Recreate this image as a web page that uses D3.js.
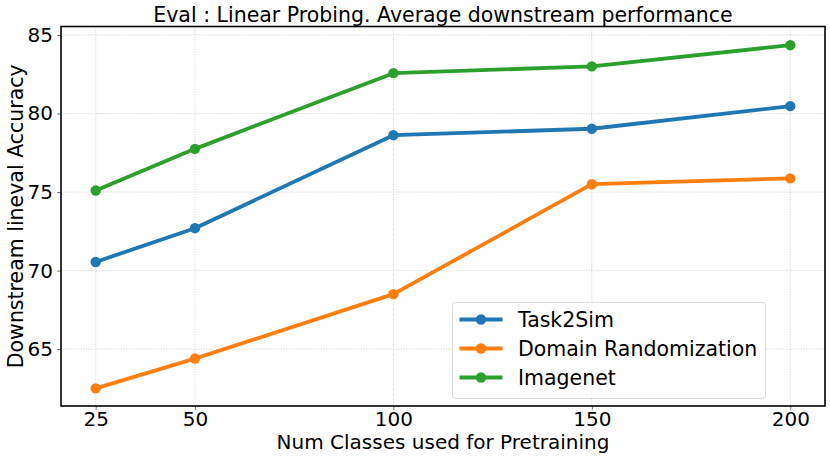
<!DOCTYPE html>
<html>
<head>
<meta charset="utf-8">
<script src="https://cdn.jsdelivr.net/npm/d3@7"></script>
<style>
  body { margin: 0; background: #fff; }
  text { font-family: 'DejaVu Sans', sans-serif; fill: #000; }
</style>
</head>
<body>
<div id="chart"></div>
<script>
// values
var numClasses = [25, 50, 100, 150, 200]
var task2sim = [70.55, 72.7, 78.62, 79.03, 80.47]
var domainRand = [62.5, 64.4, 68.5, 75.5, 75.87]
var imagenet = [75.1, 77.75, 82.57, 83.0, 84.35]
var seriesNames = ['Task2Sim', 'Domain Randomization', 'Imagenet']
var yTicks = [65, 70, 75, 80, 85]

var colors = ['#1f77b4', '#ff7f0e', '#2ca02c']

const width = 830
const height = 461
const margin = { top: 26.5, right: 5, bottom: 55, left: 61 }

var svg = d3.select('#chart')
  .append('svg')
  .attr('width', width)
  .attr('height', height)

var x = d3.scaleLinear()
  .domain([16.25, 208.75])
  .range([margin.left, width - margin.right])

var y = d3.scaleLinear()
  .domain([61.38, 85.54])
  .range([height - margin.bottom, margin.top])

// grid
var grid = svg.append('g')
grid.selectAll('.gx')
  .data(numClasses)
  .enter().append('line')
  .attr('x1', d => x(d)).attr('x2', d => x(d))
  .attr('y1', margin.top).attr('y2', height - margin.bottom)
  .attr('stroke', '#c8c8c8').attr('stroke-width', 0.8)
  .attr('stroke-dasharray', '1,1.5')
grid.selectAll('.gy')
  .data(yTicks)
  .enter().append('line')
  .attr('x1', margin.left).attr('x2', width - margin.right)
  .attr('y1', d => y(d)).attr('y2', d => y(d))
  .attr('stroke', '#c8c8c8').attr('stroke-width', 0.8)
  .attr('stroke-dasharray', '1,1.5')

// axes
var xAxis = d3.axisBottom(x).tickValues(numClasses).tickSize(4).tickPadding(3)
var yAxis = d3.axisLeft(y).tickValues(yTicks).tickSize(4).tickPadding(4)

var gx = svg.append('g')
  .attr('transform', 'translate(0,' + (height - margin.bottom) + ')')
  .call(xAxis)
var gy = svg.append('g')
  .attr('transform', 'translate(' + margin.left + ',0)')
  .call(yAxis)

svg.selectAll('.domain').remove()
svg.selectAll('.tick line').attr('stroke', '#555').attr('stroke-width', 0.8)
svg.selectAll('.tick text')
  .style('font-family', "'DejaVu Sans', sans-serif")
  .style('font-size', '20px')
  .attr('fill', '#000')
// pull x tick labels up a touch so they clear the axis title
gx.selectAll('.tick text').attr('dy', '0.64em')

// lines
var allSeries = [task2sim, domainRand, imagenet]
var line = d3.line()
  .x((d, i) => x(numClasses[i]))
  .y(d => y(d))

allSeries.forEach(function (vals, s) {
  svg.append('path')
    .datum(vals)
    .attr('d', line)
    .attr('fill', 'none')
    .attr('stroke', colors[s])
    .attr('stroke-width', 3.8)
    .attr('stroke-linejoin', 'round')
  svg.selectAll('.m' + s)
    .data(vals)
    .enter().append('circle')
    .attr('cx', (d, i) => x(numClasses[i]))
    .attr('cy', d => y(d))
    .attr('r', 5.2)
    .attr('fill', colors[s])
})

// frame
svg.append('rect')
  .attr('x', margin.left).attr('y', margin.top)
  .attr('width', width - margin.right - margin.left)
  .attr('height', height - margin.bottom - margin.top)
  .attr('fill', 'none').attr('stroke', '#000').attr('stroke-width', 1.6)

// title and labels
svg.append('text')
  .attr('x', (margin.left + width - margin.right) / 2)
  .attr('y', 22)
  .attr('text-anchor', 'middle')
  .style('font-size', '20.5px')
  .text('Eval : Linear Probing. Average downstream performance')

svg.append('text')
  .attr('x', (margin.left + width - margin.right) / 2)
  .attr('y', 449)
  .attr('text-anchor', 'middle')
  .style('font-size', '20px')
  .text('Num Classes used for Pretraining')

svg.append('text')
  .attr('transform', 'translate(23,' + ((margin.top + height - margin.bottom) / 2) + ') rotate(-90)')
  .attr('text-anchor', 'middle')
  .style('font-size', '20.5px')
  .text('Downstream lineval Accuracy')

// legend
var legend = svg.append('g').attr('transform', 'translate(452.5,302.5)')
legend.append('rect')
  .attr('width', 313).attr('height', 96)
  .attr('rx', 3)
  .attr('fill', '#fff').attr('fill-opacity', 0.8)
  .attr('stroke', '#dcdcdc').attr('stroke-width', 1)

seriesNames.forEach(function (name, s) {
  var ly = 17 + s * 29
  legend.append('line')
    .attr('x1', 7).attr('x2', 50)
    .attr('y1', ly).attr('y2', ly)
    .attr('stroke', colors[s]).attr('stroke-width', 3.8)
  legend.append('circle')
    .attr('cx', 28.5).attr('cy', ly).attr('r', 5.2)
    .attr('fill', colors[s])
  legend.append('text')
    .attr('x', 65.5).attr('y', ly + 7.5)
    .style('font-size', '20.5px')
    .text(name)
})
</script>
</body>
</html>
